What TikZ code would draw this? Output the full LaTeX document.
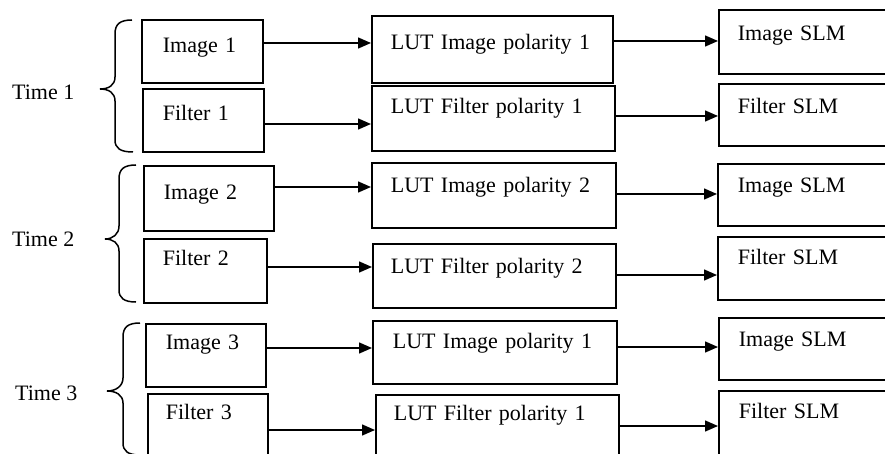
\documentclass[tikz,border=0pt]{standalone}
\usepackage{fontspec}
\setmainfont{Liberation Serif}
\usetikzlibrary{arrows.meta}
\tikzset{
  box/.style={draw, line width=1.7pt, inner sep=0pt, align=left, anchor=north west,
    font=\fontsize{22}{26}\selectfont},
  arr/.style={-{Triangle[length=13pt,width=11pt]}, line width=1.4pt},
  brc/.style={line width=1.5pt},
  lbl/.style={anchor=base west, inner sep=0pt, font=\fontsize{22}{26}\selectfont}
}
\newcommand\bx[8]{%
  \pgfmathsetmacro\bw{#4-#2}\pgfmathsetmacro\bd{#5-#3-#7}%
  \node[box, text width=\bw pt, text height=#7pt, text depth=\bd pt] (#1) at (#2,#3) {\hspace*{#6pt}#8};}
\begin{document}
\begin{tikzpicture}[x=1pt,y=-1pt]
\useasboundingbox (0,0) rectangle (885,454);
\clip (0,0) rectangle (885,454);
% boxes
\bx{a1}{141}{19}{262}{82}{21}{33}{Image 1}
\bx{b1}{142}{88}{263}{151}{20}{32}{Filter 1}
\bx{c1}{371}{15}{612}{82}{19}{34}{LUT Image polarity 1}
\bx{d1}{371}{85}{614}{150}{19}{28}{LUT Filter polarity 1}
\bx{e1}{718}{9}{900}{73}{19}{31}{Image SLM}
\bx{f1}{718}{83}{900}{145}{19}{30}{Filter SLM}
\bx{a2}{143}{165}{273}{230}{20}{34}{Image 2}
\bx{b2}{143}{238}{266}{302}{19}{27}{Filter 2}
\bx{c2}{371}{162}{615}{227}{19}{30}{LUT Image polarity 2}
\bx{d2}{372}{243}{615}{307}{18}{30}{LUT Filter polarity 2}
\bx{e2}{717}{163}{900}{225}{20}{29}{Image SLM}
\bx{f2}{717}{236}{900}{299}{20}{28}{Filter SLM}
\bx{a3}{145}{323}{265}{386}{20}{26}{Image 3}
\bx{b3}{147}{393}{267}{470}{18}{26}{Filter 3}
\bx{c3}{372}{320}{616}{383}{20}{28}{LUT Image polarity 1}
\bx{d3}{375}{394}{618}{470}{18}{26}{LUT Filter polarity 1}
\bx{e3}{718}{317}{900}{379}{20}{29}{Image SLM}
\bx{f3}{718}{390}{900}{470}{20}{28}{Filter SLM}
% time labels
\node[lbl] (t1) at (12,100) {Time 1};
\node[lbl] (t2) at (12,246) {Time 2};
\node[lbl] (t3) at (15,400) {Time 3};
% braces
\draw[brc] (132,20) .. controls (120,20) and (115,24) .. (115,34) -- (115,77)
  .. controls (115,85) and (109,89) .. (100,89)
  .. controls (109,89) and (115,93) .. (115,101) -- (115,140)
  .. controls (115,148) and (120,152) .. (133,152);
\draw[brc] (136,165) .. controls (124,165) and (119,169) .. (119,179) -- (119,226)
  .. controls (119,234) and (113,239) .. (105,239)
  .. controls (113,239) and (119,243) .. (119,251) -- (119,290)
  .. controls (119,298) and (124,302) .. (136,302);
\draw[brc] (140,323) .. controls (128,323) and (123,327) .. (123,337) -- (123,378)
  .. controls (123,386) and (116,391) .. (107,391)
  .. controls (116,391) and (123,395) .. (123,403) -- (123,443)
  .. controls (123,451) and (128,455) .. (140,455);
% arrows
\draw[arr] (a1.east |- 0,43) -- (c1.west |- 0,43);
\draw[arr] (c1.east |- 0,41) -- (e1.west |- 0,41);
\draw[arr] (b1.east |- 0,124) -- (d1.west |- 0,124);
\draw[arr] (d1.east |- 0,116) -- (f1.west |- 0,116);
\draw[arr] (a2.east |- 0,187) -- (c2.west |- 0,187);
\draw[arr] (c2.east |- 0,194) -- (e2.west |- 0,194);
\draw[arr] (b2.east |- 0,267) -- (d2.west |- 0,267);
\draw[arr] (d2.east |- 0,275) -- (f2.west |- 0,275);
\draw[arr] (a3.east |- 0,348) -- (c3.west |- 0,348);
\draw[arr] (c3.east |- 0,347) -- (e3.west |- 0,347);
\draw[arr] (b3.east |- 0,430) -- (d3.west |- 0,430);
\draw[arr] (d3.east |- 0,426) -- (f3.west |- 0,426);
\end{tikzpicture}
\end{document}
